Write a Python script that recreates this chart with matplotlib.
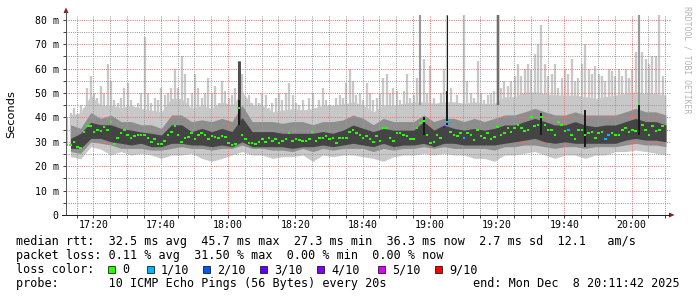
import numpy as np
import matplotlib
matplotlib.use("Agg")
import matplotlib.pyplot as plt
from matplotlib.patches import Rectangle, Polygon
from matplotlib.lines import Line2D

# ---------------- data ----------------
START = "17:11:42"
END = "20:11:42"
STEP_FINE = 1.0     # minutes per fine sample
STEP_COARSE = 3.0   # minutes per coarse sample

# median RTT per minute (ms)
median_ms = [
    28.5, 28.5, 30, 28, 27.3, 34, 36.5, 36.5, 34, 35,
    34.5, 36, 35, 38, 29, 31.5, 33.5, 35, 33, 31.5,
    32.5, 33, 33, 33, 31.5, 30, 31, 29, 29, 30.5,
    33, 34, 36.5, 33, 30, 31.5, 32, 33.5, 31, 33,
    33.5, 33, 31, 32.5, 32, 31.5, 32.5, 32, 29.5, 28.5,
    29, 44, 33, 31, 29.5, 29.5, 29, 30, 31, 30,
    31.4, 30.5, 31, 29.5, 30.3, 31, 33.5, 30.2, 31.3, 30.7,
    30.5, 30.3, 31, 34, 30.5, 31.4, 31.5, 32.5, 31, 31.5,
    29.5, 31.5, 31.5, 31.5, 34, 35, 33.5, 33, 31.5,
    32.5, 31.2, 30, 32.5, 30.5, 35.5, 35.5, 31.5, 30.2, 33.5, 33.8,
    33, 32.5, 31.3, 31, 35.5, 37.6, 38.5, 32.8, 29.4, 30.1,
    32.8, 31.4, 36, 38, 34.2, 32.8, 32.5, 33.5, 31.5,
    33.5, 32.8, 30.7, 35, 32.5, 31.5, 33.5, 31, 32, 36, 33,
    33.5, 35.5, 34, 35.5, 37, 35.5, 34.5, 35, 40, 36.5,
    37, 40, 37, 35, 35, 33, 38, 37,
    34.4, 35, 33, 31, 35, 35, 32.8, 33.5, 34, 31.4,
    33.5, 34, 31, 32.8, 33.5, 33, 33, 35, 35.5, 34,
    35, 34.5, 45.7, 37, 35, 33, 36.5, 34.5, 35, 36.3,
]
# highest ping per minute (ms)
max_ms = [
    40, 42, 44, 39, 45, 44, 52, 57, 50, 48,
    53, 50, 62, 55, 47, 46, 48, 52, 54, 47,
    44, 46, 50, 73, 50, 46, 48, 47, 52, 49,
    50, 52, 60, 52, 65, 58, 48, 50, 58, 52,
    48, 50, 56, 50, 53, 46, 55, 51, 48, 49,
    52, 63, 58, 47, 49, 46, 48, 46, 50, 49,
    44, 46, 48, 50, 47, 50, 54, 49, 46, 45,
    47, 43, 48, 50, 44, 47, 52, 47, 45, 44,
    48, 49, 48, 54, 60, 55, 49, 50, 47,
    54, 50, 47, 48, 50, 56, 58, 50, 52, 51, 47,
    51, 58, 48, 49, 56, 82, 64, 50, 61, 48,
    45, 50, 60, 82, 52, 46, 49, 45, 82,
    55, 50, 48, 63, 50, 47, 49, 50, 51, 82, 52,
    55, 53, 55, 57, 62, 57, 60, 62, 60, 66,
    70, 78, 62, 57, 58, 62, 52, 56,
    60, 58, 64, 55, 56, 62, 70, 60, 58, 61,
    58, 57, 55, 60, 59, 57, 60, 57, 60, 56,
    60, 67, 82, 67, 64, 62, 65, 65, 82, 57,
]
# lost pings (tenths) – minutes with loss
loss_index = [112, 113, 118, 149, 160, 161]
loss_tenths = [3, 1, 1, 1, 1, 1]

# smoke envelope, 3-minute resolution (ms)
smoke_min = [
    24, 23, 28, 27, 24.6, 26, 24.6, 25.3, 24.6, 23.2,
    24.6, 24.6, 25.3, 23.2, 22, 23.2, 24.6, 26, 24.6, 24.6,
    23.2, 23.9, 23.9, 24.6, 22, 24.6, 23.9, 24.6, 24.6, 23.9,
    23.2, 22, 23.9, 24.6, 24.6, 25.3, 24.6, 25.3, 24.6, 24.6,
    23.2, 23.2, 22, 24.6, 24.6, 25.3, 26, 24.6, 23.2, 24.6,
    24.6, 23.2, 24.6, 24.6, 26, 26, 26.6, 26, 25.3, 24.6,
]
smoke_body = [
    41, 42, 49, 45, 45, 44, 45, 43.7, 43, 42.3,
    47.8, 47.8, 43.7, 45, 43.7, 46.4, 45, 50.5, 45, 45,
    42.3, 43, 43.7, 43, 43.7, 45, 45, 45.5, 46.4, 45,
    42.3, 45, 45, 45.8, 46.4, 46.4, 45.8, 46.4, 46.4, 45.8,
    46.4, 45.8, 45.8, 48.5, 48.5, 50.5, 50.5, 49.8, 49.2, 49.2,
    49.2, 48.5, 47.8, 48.5, 49.2, 49.8, 50.5, 49.8, 49.8, 49.2,
]
smoke_mid_lo = [
    26, 25.3, 30, 29.4, 28.7, 27.3, 27.3, 27.3, 26.6, 26.6,
    27.3, 28, 27.3, 27.3, 26.6, 27.3, 27.3, 28.7, 27.3, 27.3,
    26.6, 26.6, 26, 27.3, 26, 27.3, 26.6, 27.3, 27.3, 27.3,
    26, 27.3, 26.6, 27.3, 27.3, 28, 27.3, 28, 27.3, 27.3,
    27.3, 27.3, 26.6, 28, 28, 28.7, 28.7, 28, 27.3, 28,
    28, 27.3, 28, 28, 28, 28.7, 29.4, 28.7, 28.7, 28,
]
smoke_mid_hi = [
    37, 35.5, 42, 39.6, 41, 38.3, 38.3, 37, 37, 35.5,
    41, 41, 38.3, 39, 38.3, 39.6, 38.3, 45, 38.3, 38.3,
    38.3, 37.6, 38.3, 38.3, 37, 38.3, 38.3, 39, 41, 39.6,
    37, 39.6, 38.3, 38.3, 38.3, 41, 38.3, 39.6, 39.6, 38.3,
    39.6, 38.3, 39.6, 41, 41, 42.3, 43.7, 42.3, 41, 41,
    42.3, 41, 41, 41, 41, 42.3, 43.7, 42.3, 42.3, 41,
]
smoke_dark_lo = [
    27.3, 27.3, 31.4, 31.4, 30, 29.4, 28.7, 29.4, 28, 28,
    29.4, 29.4, 28.7, 28.7, 28, 28.7, 28, 30, 28, 28,
    28, 28, 27.3, 28, 28, 28.7, 28, 28.7, 29.4, 28.7,
    28, 29.4, 28, 28.7, 28.7, 29.4, 28, 29.4, 29.4, 28.7,
    28.7, 28.7, 28.7, 29.4, 30, 30.7, 31.4, 30, 29.4, 30,
    29.4, 29.4, 29.4, 29.4, 29.4, 30.7, 31.4, 30.7, 30.7, 30,
]
smoke_dark_hi = [
    31.4, 33.5, 38, 37, 37, 35.5, 34.8, 34, 33.5, 32.8,
    37, 37, 34.2, 35.5, 34.2, 35.5, 34.2, 40, 34.2, 34.2,
    34.2, 33.5, 33.5, 33.5, 33.5, 34.2, 33.5, 34.8, 36.9, 35.5,
    34.2, 35.5, 34.8, 34.8, 34.8, 38.3, 34.8, 36.9, 35.5, 34.8,
    35.5, 34.8, 35.5, 36.9, 36.9, 38.3, 39.6, 38.3, 36.9, 36.9,
    38.3, 36.9, 36.2, 36.9, 36.9, 38.3, 39.6, 38.3, 38.3, 36.9,
]
# tall single-minute spikes of the inner smoke
spike_index = [51, 105, 113, 128, 170]
spike_bottom = [38, 45, 40, 45, 45]
spike_top = [63, 82, 82, 82, 82]
# short very dark segments
dark_index = [51, 106, 113, 141, 154, 170]
dark_bottom = [37, 33, 37, 33, 28, 33]
dark_top = [47, 40, 51, 42, 43, 46]

ytick_values = [0, 10, 20, 30, 40, 50, 60, 70, 80]
ytick_labels = ["0", "10 m", "20 m", "30 m", "40 m", "50 m", "60 m", "70 m", "80 m"]
xtick_labels = ["17:20", "17:40", "18:00", "18:20", "18:40", "19:00", "19:20", "19:40", "20:00"]

loss_levels = ["0", "1/10", "2/10", "3/10", "4/10", "5/10", "9/10"]
loss_colors = ["#26ff00", "#00b8ff", "#0059ff", "#5e00ff", "#7e00ff", "#dd00ff", "#ff0000"]

legend_lines = [
    "median rtt:  32.5 ms avg  45.7 ms max  27.3 ms min  36.3 ms now  2.7 ms sd  12.1   am/s",
    "packet loss: 0.11 % avg  31.50 % max  0.00 % min  0.00 % now",
]
probe_text = "probe:       10 ICMP Echo Pings (56 Bytes) every 20s"
end_text = "end: Mon Dec  8 20:11:42 2025"

# ---------------- helpers ----------------
def to_min(s):
    parts = [int(p) for p in s.split(":")]
    sec = parts[2] if len(parts) > 2 else 0
    return (parts[0] - 17) * 60 + parts[1] + sec / 60.0

t0, t1 = to_min(START), to_min(END)
tf = t0 + STEP_FINE * (np.arange(len(median_ms)) + 0.5)
tc = t0 + STEP_COARSE * (np.arange(len(smoke_min)) + 0.5)
med = np.array(median_ms)
loss = np.zeros(len(median_ms), dtype=int)
loss[loss_index] = loss_tenths
level_of = {0: 0, 1: 1, 2: 2, 3: 3, 4: 4, 5: 5, 9: 6}

W, H = 697, 297
fig = plt.figure(figsize=(W / 100, H / 100), dpi=100)
fig.patch.set_facecolor("white")
L, R, B, T = 65.5, 671.0, 215.0, 15.0
ax = fig.add_axes([L / W, 1 - B / H, (R - L) / W, (B - T) / H])
ax.set_xlim(t0, t1)
ax.set_ylim(0, 82)

PX = 0.72  # one pixel in points

# smoke
ax.vlines(tf, med, max_ms, colors="#c8c8c8", lw=2.3 * PX, zorder=1)
ax.fill_between(tc, smoke_min, smoke_body, color="#c8c8c8", lw=0, zorder=1)
ax.fill_between(tc, smoke_mid_lo, smoke_mid_hi, color="#8e8e8e", lw=0, zorder=2)
spike_colors = ["#505050", "#8c8c8c", "#1e1e1e", "#6e6e6e", "#8c8c8c"]
spike_widths = [3, 1.5, 1, 2.5, 1.5]
for j, idx in enumerate(spike_index):
    ax.vlines(tf[idx], spike_bottom[j], spike_top[j], colors=spike_colors[j],
              lw=spike_widths[j] * PX, zorder=3)
ax.fill_between(tc, smoke_dark_lo, smoke_dark_hi, color="#444444", lw=0, zorder=3)
ax.vlines(tf[dark_index], dark_bottom, dark_top, colors="#1a1a1a", lw=2 * PX, zorder=4)

# median
for i in range(len(med)):
    c = loss_colors[level_of[int(loss[i])]]
    ax.hlines(med[i], tf[i] - 0.38, tf[i] + 0.38, colors=c, lw=2 * PX, zorder=5)

# grid
major_x = [to_min(s) for s in xtick_labels]
minor_x = np.arange(np.ceil(t0 / 5) * 5, t1, 5)
ax.set_xticks(major_x)
ax.set_xticklabels(xtick_labels)
ax.set_xticks([m for m in minor_x if m not in major_x], minor=True)
ax.set_yticks(ytick_values)
ax.set_yticklabels(ytick_labels)
ax.set_yticks(np.arange(5, 82, 10), minor=True)
dots = (0, (1, 1.2))
ax.grid(True, which="major", color=(0.92, 0.45, 0.45, 0.5), lw=PX, ls=dots, zorder=6)
ax.grid(True, which="minor", color=(0.6, 0.6, 0.6, 0.4), lw=PX, ls=dots, zorder=6)
ax.set_axisbelow(False)

mono = "DejaVu Sans Mono"
ax.tick_params(which="both", direction="out", length=2, width=PX, color="#444444")
ax.tick_params(axis="x", which="major", pad=1.8, labelsize=7.1)
ax.tick_params(axis="y", which="major", pad=2.8, labelsize=7.1)
for lab in ax.get_xticklabels() + ax.get_yticklabels():
    lab.set_fontfamily(mono)
for s in ax.spines.values():
    s.set_visible(False)

# axes lines with arrows (figure pixel coordinates)
def fx(x):
    return x / W

def fy(y):
    return 1 - y / H

fig.add_artist(Line2D([fx(66), fx(66)], [fy(215), fy(11)], color="#555555", lw=PX))
fig.add_artist(Line2D([fx(62), fx(669)], [fy(215), fy(215)], color="#222222", lw=PX))
fig.add_artist(Polygon([[fx(63.5), fy(13)], [fx(68.5), fy(13)], [fx(66), fy(7.5)]],
                       closed=True, color="#8b1a1a", lw=0))
fig.add_artist(Polygon([[fx(669), fy(212.5)], [fx(669), fy(217.5)], [fx(674.5), fy(215)]],
                       closed=True, color="#8b1a1a", lw=0))

# labels
fig.text(fx(11), fy(114), "Seconds", rotation=90, ha="center", va="center",
         fontsize=8.2, family="DejaVu Sans", color="#000000")
fig.text(fx(687.5), fy(60), "RRDTOOL / TOBI OETIKER", rotation=270, ha="center",
         va="center", fontsize=5.9, family=mono, color="#b4b4b4")

# legend
LS = 8.5
base = [245, 259.2, 273.3, 287.3]
for k, line in enumerate(legend_lines):
    fig.text(fx(16), fy(base[k]), line, fontsize=LS, family=mono, va="baseline", ha="left")
fig.text(fx(16), fy(base[2]), "loss color:", fontsize=LS, family=mono, va="baseline", ha="left")
box_left = [108, 147, 203, 260, 317, 378, 435]
for j, (lab, col) in enumerate(zip(loss_levels, loss_colors)):
    x = box_left[j]
    fig.add_artist(Rectangle((fx(x), fy(272.5)), 7 / W, 7 / H, facecolor=col,
                             edgecolor="#000000", lw=0.7 * PX))
    fig.text(fx(x + 14), fy(base[2]), lab, fontsize=LS, family=mono, va="baseline", ha="left")
fig.text(fx(16), fy(base[3]), probe_text, fontsize=LS, family=mono, va="baseline", ha="left")
fig.text(fx(680), fy(base[3]), end_text, fontsize=LS, family=mono, va="baseline", ha="right")

fig.savefig("out.png", dpi=100, facecolor="white")
